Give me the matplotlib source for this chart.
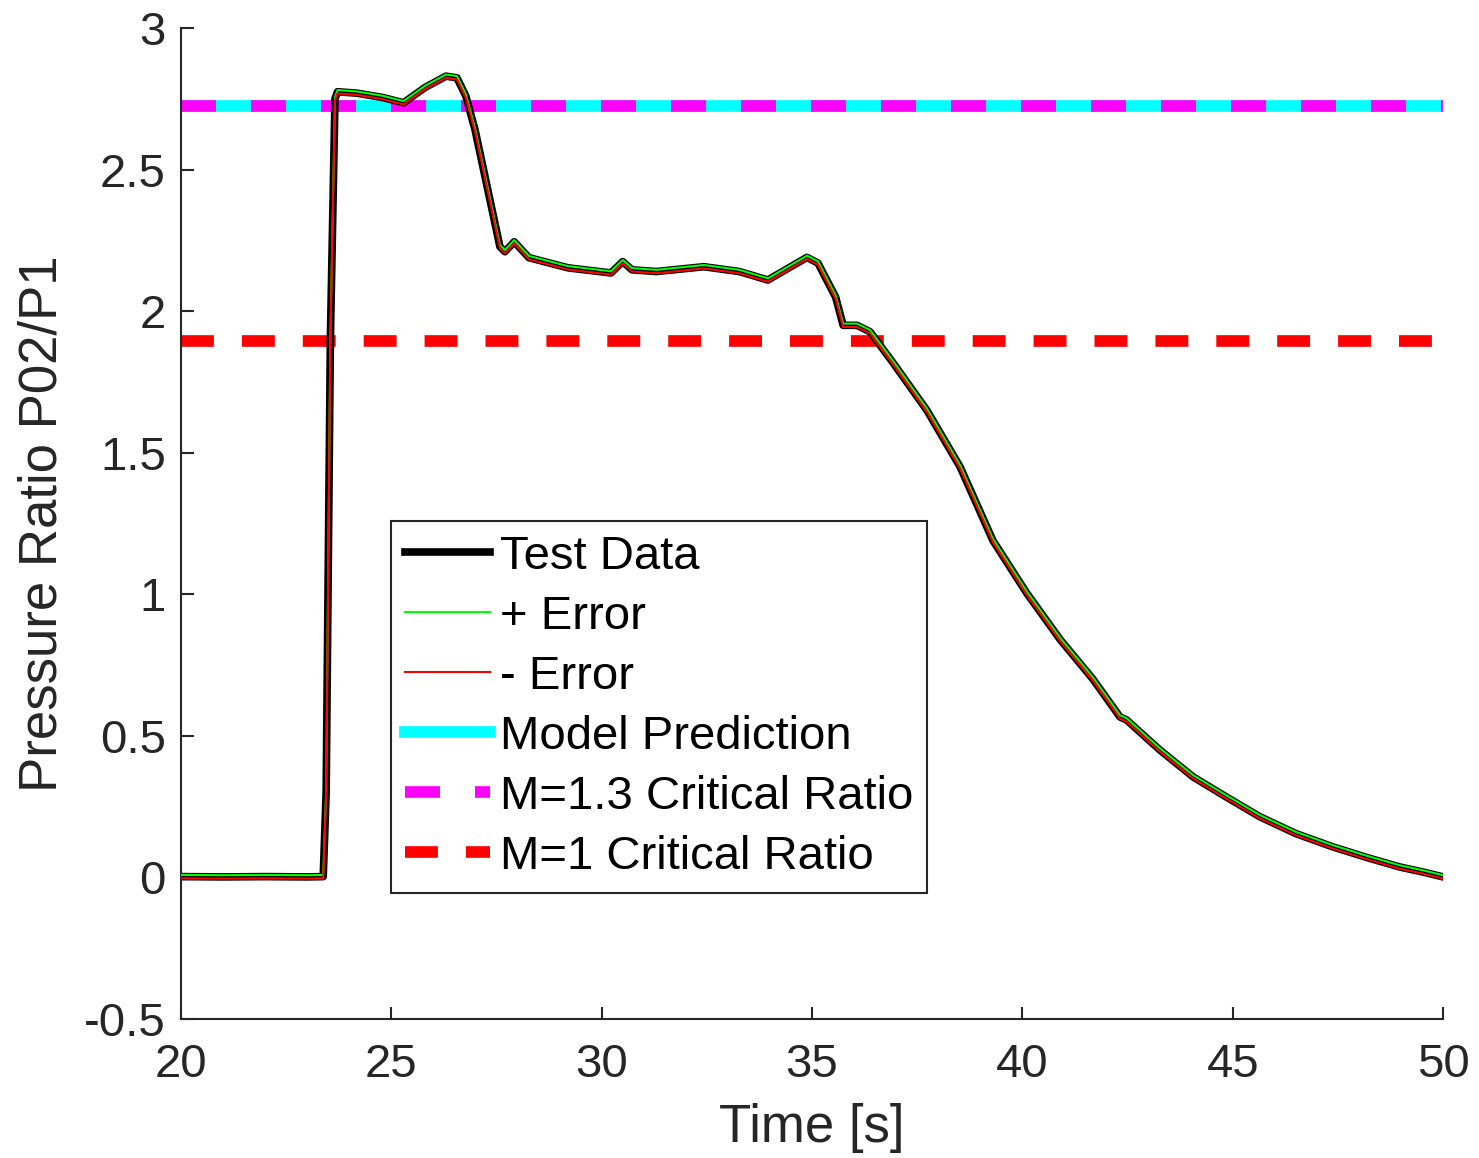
import matplotlib
matplotlib.use("Agg")
import matplotlib.pyplot as plt
import numpy as np

plt.rcParams['font.family'] = ['Liberation Sans', 'DejaVu Sans']

# test data: time [s] and pressure ratio P02/P1
t = [20.0, 21.0, 22.0, 23.0, 23.38, 23.45, 23.55, 23.66, 23.72, 24.18, 24.78,
     25.29, 25.8, 26.3, 26.56, 26.77, 26.99, 27.58, 27.7, 27.92, 28.27, 29.2,
     30.22, 30.5, 30.72, 31.3, 32.43, 33.27, 33.95, 34.88, 35.14, 35.56, 35.74,
     36.07, 36.38, 36.93, 37.73, 38.52, 39.3, 40.1, 40.9, 41.68, 42.32, 42.48,
     43.27, 44.06, 44.85, 45.65, 46.5, 47.38, 48.2, 48.97, 49.5, 50.0]
p = [0.003, 0.002, 0.003, 0.002, 0.003, 0.3, 1.9, 2.75, 2.775, 2.77, 2.755,
     2.736, 2.79, 2.83, 2.824, 2.76, 2.64, 2.228, 2.21, 2.245, 2.189, 2.153,
     2.135, 2.175, 2.146, 2.14, 2.157, 2.14, 2.11, 2.19, 2.17, 2.05, 1.95,
     1.95, 1.927, 1.817, 1.65, 1.45, 1.19, 1.005, 0.84, 0.70, 0.567, 0.556,
     0.45, 0.355, 0.284, 0.214, 0.155, 0.108, 0.07, 0.037, 0.02, 0.002]
err = 0.006

model_ratio = 2.725
m13_ratio = 2.725
m1_ratio = 1.893

x_ticks = [20, 25, 30, 35, 40, 45, 50]
y_ticks = [-0.5, 0, 0.5, 1, 1.5, 2, 2.5, 3]
y_tick_labels = ['-0.5', '0', '0.5', '1', '1.5', '2', '2.5', '3']

t = np.array(t)
p = np.array(p)

fig = plt.figure(figsize=(14.79, 11.58), dpi=100)
ax = fig.add_axes([0.1224, 0.12, 0.8533, 0.8558])

h_cyan = ax.axhline(model_ratio, color='cyan', lw=8.4, zorder=1)
h_mag, = ax.plot([20, 50], [m13_ratio, m13_ratio], color='magenta', lw=8.4,
                 dashes=(3.0, 3.0), dash_capstyle='butt', zorder=1.1)
h_red, = ax.plot([20, 50], [m1_ratio, m1_ratio], color='red', lw=8.4,
                 dashes=(2.82, 2.4), dash_capstyle='butt', zorder=1.1)

h_data, = ax.plot(t, p, color='black', lw=5.5, zorder=2)
h_plus, = ax.plot(t, p + err, color='#00ff00', lw=1.5, zorder=3)
h_minus, = ax.plot(t, p - err, color='red', lw=1.5, zorder=4)

ax.set_xlim(20, 50)
ax.set_ylim(-0.5, 3)
ax.set_xticks(x_ticks)
ax.set_xticklabels([str(v) for v in x_ticks])
ax.set_yticks(y_ticks)
ax.set_yticklabels(y_tick_labels)

for s in ['top', 'right']:
    ax.spines[s].set_visible(False)
for s in ['left', 'bottom']:
    ax.spines[s].set_color('#262626')
    ax.spines[s].set_linewidth(1.5)
ax.tick_params(direction='in', length=9, width=1.5, color='#262626',
               labelsize=34, labelcolor='#262626')
ax.tick_params(axis='x', pad=17)
ax.tick_params(axis='y', pad=11)

ax.set_xlabel('Time [s]', fontsize=38, color='#262626', labelpad=12)
ax.set_ylabel('Pressure Ratio P02/P1', fontsize=38, color='#262626', labelpad=12)

leg = ax.legend([h_data, h_plus, h_minus, h_cyan, h_mag, h_red],
                ['Test Data', '+ Error', '- Error', 'Model Prediction',
                 'M=1.3 Critical Ratio', 'M=1 Critical Ratio'],
                loc='lower left', bbox_to_anchor=(0.1664, 0.127),
                borderaxespad=0, fontsize=34, handlelength=1.8,
                handletextpad=0.2, labelspacing=0.34, borderpad=0.3,
                fancybox=False, framealpha=1, edgecolor='#262626')
leg.get_frame().set_linewidth(1.5)

fig.savefig('out.png', dpi=100)
